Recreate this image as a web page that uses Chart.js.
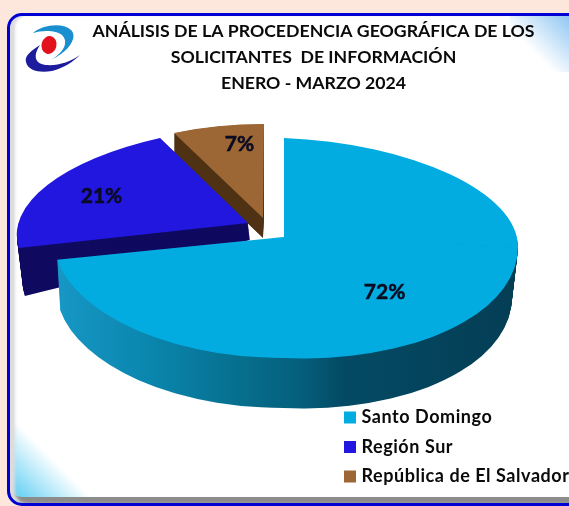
<!DOCTYPE html>
<html>
<head>
<meta charset="utf-8">
<style>
html,body{margin:0;padding:0;width:569px;height:506px;overflow:hidden;background:#fde6dc}
#frame{position:absolute;left:7px;top:13px;width:640px;height:487px;border:3px solid #0000d2;border-radius:15px;box-sizing:content-box;
background:linear-gradient(45deg,#4cc8f2 0,#ffffff 62px,#ffffff 100%);box-shadow:inset 6px 0 3px -1px #dcdcdc,inset 0 -6px 0 0 #8c8c8c;}
#corner{position:absolute;left:510px;top:16px;width:59px;height:56px;background:linear-gradient(225deg,#8fc6f2 0,rgba(255,255,255,0) 62%)}
#logo{position:absolute;left:24px;top:24px;width:58px;height:50px}
canvas{position:absolute;left:0;top:0}
</style>
<script src="https://cdn.jsdelivr.net/npm/chart.js@4"></script>
</head>
<body>
<div id="frame"></div><div id="corner"></div>
<svg id="logo" viewBox="0 0 58 50">
<path d="M9 9C18 1 38 -2 47 6C54 13 46 27 27 36C40 28 45 18 38 11C32 6 18 6 9 9Z" fill="#1a8fd0"/>
<path d="M16 21C8 26 0 32 2 38C4 47 16 49 28 47C40 44 50 37 56 31C46 38 34 42 22 41C12 40 8 33 16 21Z" fill="#1c1c9c"/>
<ellipse cx="25" cy="21" rx="7.5" ry="9" transform="rotate(15 25 21)" fill="#e3101e"/>
</svg>
<canvas id="c" width="569" height="506"></canvas>
<script>
const titleLines = ["ANÁLISIS DE LA PROCEDENCIA GEOGRÁFICA DE LOS", "SOLICITANTES  DE INFORMACIÓN", "ENERO - MARZO 2024"];
const categories = ["Santo Domingo", "Región Sur", "República de El Salvador"];
const percentages = [72, 21, 7];
const faceColors = ["#03ace0", "#2217de", "#9c6735"];
const wallColors = ["", "#100a60", "#4f3213"];

const FONT = "Lato, Carlito, sans-serif";

// Perspective placement of each slice: affine maps [a,b,c,d,e,f] of the unit pie.
const Q = (a,b,c,d,e,f) => ({a,b,c,d,e,f});
const view = {
  2: { top: Q(211,0,-1,94,263,218), bottom: Q(211,0,-1,94,263,238) },
  1: { top: Q(231,-7,-11.5,97.2,248,223), bottom: Q(227,-38.5,-11.5,97.2,250,240) }
};
// The large slice is drawn per quadrant so its near half can bulge.
const bigQuadrants = [
  { sx: 1, sy:-1, shrink:6, top: Q(234,10,0,99,284,237) },
  { sx: 1, sy: 1, shrink:6, top: Q(234,10,0,121,284,237) },
  { sx:-1, sy: 1, shrink:3, top: Q(231,0,0,121,284,237) },
  { sx:-1, sy:-1, shrink:3, top: Q(231,0,0,99,284,237) }
];
const bigDepth = 50;
const wallStops = [[0,"#1797c5"],[0.2,"#0a86ae"],[0.42,"#066c8a"],[0.53,"#055f7c"],[0.62,"#044a64"],[1,"#043e55"]];
const wallX0 = 57, wallX1 = 518;
const labelSpots = [[0.43,0.42],[-0.65,-0.32],[-0.115,-0.78]];

function applyMap(ctx, m, el, R){
  ctx.setTransform(m.a/R, m.b/R, m.c/R, m.d/R,
    m.e-(m.a*el.x+m.c*el.y)/R, m.f-(m.b*el.x+m.d*el.y)/R);
}
function paint(el, ctx, color){
  const keep = el.options;
  const o = Object.create(keep);
  o.backgroundColor = color;
  el.options = o;
  el.draw(ctx);
  el.options = keep;
}
function mix(p, q, t){
  const r = {};
  for (const k of "abcdef") r[k] = p[k] + (q[k]-p[k])*t;
  return r;
}
const pie3d = {
  id: "pie3d",
  beforeDatasetsDraw(chart){
    const ctx = chart.ctx, meta = chart.getDatasetMeta(0);
    ctx.save();
    for (const i of [2,1]) {
      const el = meta.data[i], R = el.outerRadius, v = view[i];
      const n = 40;
      for (let k=n; k>0; k--) {
        ctx.save();
        applyMap(ctx, mix(v.top, v.bottom, k/n), el, R);
        paint(el, ctx, wallColors[i]);
        ctx.restore();
      }
      ctx.save();
      applyMap(ctx, v.top, el, R);
      paint(el, ctx, faceColors[i]);
      ctx.restore();
    }
    const el = meta.data[0], R = el.outerRadius;
    const drawQuadrant = (q, map, fill) => {
      ctx.save();
      applyMap(ctx, map, el, R);
      ctx.beginPath();
      const x0 = q.sx>0 ? el.x-0.6 : el.x-R*1.2, y0 = q.sy>0 ? el.y-0.6 : el.y-R*1.2;
      ctx.rect(x0, y0, R*1.2+0.6, R*1.2+0.6);
      ctx.clip();
      paint(el, ctx, fill(map));
      ctx.restore();
    };
    const wallFill = map => {
      const toLocal = D => el.x + (D-map.e)*R/map.a;
      const g = ctx.createLinearGradient(toLocal(wallX0),0,toLocal(wallX1),0);
      wallStops.forEach(s => g.addColorStop(s[0], s[1]));
      return g;
    };
    for (let k=bigDepth; k>0; k--) {
      for (const q of bigQuadrants) {
        const t = k/bigDepth;
        const m = Object.assign({}, q.top, {a:q.top.a-q.shrink*t, f:q.top.f+k});
        drawQuadrant(q, m, wallFill);
      }
    }
    for (const q of bigQuadrants) drawQuadrant(q, q.top, () => faceColors[0]);
    ctx.restore();

    ctx.save();
    ctx.setTransform(1,0,0,1,0,0);
    ctx.font = "bold 21px " + FONT;
    ctx.fillStyle = "#0b0b22";
    ctx.strokeStyle = "#0b0b22";
    ctx.lineWidth = 0.5;
    ctx.textAlign = "center";
    ctx.textBaseline = "middle";
    percentages.forEach((p,i) => {
      const spot = labelSpots[i];
      const m = i===0 ? (spot[1]>0 ? bigQuadrants[1].top : bigQuadrants[0].top) : view[i].top;
      const x = m.e + m.a*spot[0] + m.c*spot[1], y = m.f + m.b*spot[0] + m.d*spot[1];
      ctx.fillText(p + "%", x, y);
      ctx.strokeText(p + "%", x, y);
    });
    ctx.restore();
    return false;
  },
  afterLayout(chart){
    const l = chart.legend;
    l.left = 336; l.right = 569; l.top = 397; l.bottom = 506; l.width = 233; l.height = 109;
    if (!l._spaced) {
      const orig = l.draw;
      l.draw = function(){
        chart.ctx.letterSpacing = "0.55px";
        orig.apply(this, arguments);
        chart.ctx.letterSpacing = "0px";
      };
      l._spaced = true;
    }
  }
};

new Chart(document.getElementById("c"), {
  type: "pie",
  data: { labels: categories, datasets: [{ data: percentages, backgroundColor: faceColors, borderWidth: 0 }] },
  plugins: [pie3d],
  options: {
    responsive: false,
    animation: false,
    layout: { padding: { left: 58, top: 0, right: 0, bottom: 0 } },
    plugins: {
      tooltip: { enabled: false },
      title: {
        display: true,
        text: titleLines,
        color: "#0a0a0a",
        font: { family: FONT, size: 17.7, weight: "bold", lineHeight: 1.47 },
        padding: { top: 18, bottom: 4 }
      },
      legend: {
        position: "chartArea",
        align: "start",
        labels: {
          color: "#0a0a0a",
          font: { family: FONT, size: 18, weight: "bold" },
          boxWidth: 5, boxHeight: 5, padding: 11.5,
          generateLabels(chart){
            const items = Chart.overrides.doughnut.plugins.legend.labels.generateLabels(chart);
            items.forEach((it,i) => { it.strokeStyle = faceColors[i]; it.lineWidth = 7; });
            return items;
          }
        }
      }
    }
  }
});
</script>
</body>
</html>
